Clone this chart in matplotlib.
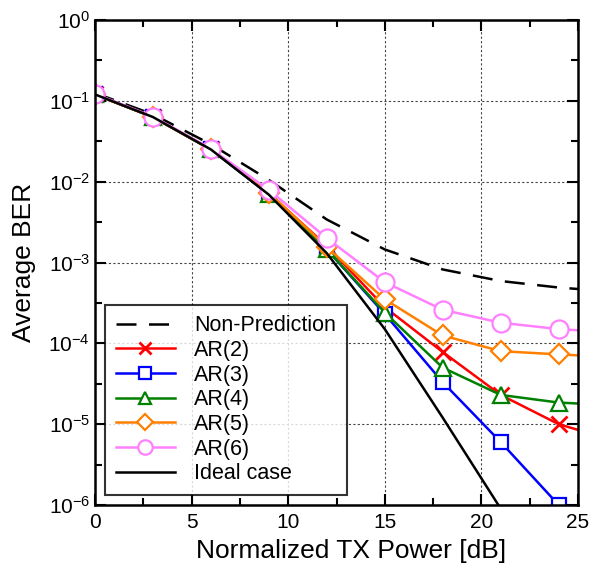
import numpy as np
import matplotlib
matplotlib.use("Agg")
import matplotlib.pyplot as plt
from matplotlib.ticker import FixedLocator, NullFormatter

plt.rcParams['font.family'] = ['Liberation Sans', 'DejaVu Sans']
plt.rcParams['mathtext.fontset'] = 'custom'
plt.rcParams['mathtext.rm'] = 'Liberation Sans'

tx_power = [0, 3, 6, 9, 12, 15, 18, 21, 24, 25]

non_pred = [0.125, 0.068, 0.029, 0.0105, 3.4e-3, 1.45e-3, 8.2e-4, 5.9e-4, 4.9e-4, 4.7e-4]
ar2 = [0.12, 0.063, 0.025, 0.0072, 1.6e-3, 2.8e-4, 7.8e-5, 2.3e-5, 1.0e-5, 8.5e-6]
ar3 = [0.12, 0.063, 0.025, 0.0070, 1.45e-3, 2.3e-4, 3.3e-5, 6.0e-6, 1.0e-6, 5.5e-7]
ar4 = [0.12, 0.063, 0.025, 0.0070, 1.45e-3, 2.4e-4, 5.0e-5, 2.3e-5, 1.85e-5, 1.8e-5]
ar5 = [0.12, 0.063, 0.025, 0.0073, 1.55e-3, 3.5e-4, 1.25e-4, 8.0e-5, 7.3e-5, 7.1e-5]
ar6 = [0.122, 0.064, 0.0255, 0.0079, 2.0e-3, 5.7e-4, 2.6e-4, 1.8e-4, 1.5e-4, 1.45e-4]
ideal = [0.12, 0.063, 0.025, 0.0069, 1.3e-3, 1.5e-4, 1.2e-5, 9e-7, 6e-8, 2e-8]

labels = ['Non-Prediction', 'AR(2)', 'AR(3)', 'AR(4)', 'AR(5)', 'AR(6)', 'Ideal case']

fig = plt.figure(figsize=(5.93, 5.66), dpi=100)
ax = fig.add_axes([95/593, 1-505/566, (578-95)/593, (505-20)/566])

mk = list(range(9))
lw = 1.8
ax.plot(tx_power, non_pred, color='black', ls=(0, (8, 5)), lw=lw, label=labels[0])
ax.plot(tx_power, ar2, color='#ff0000', lw=lw, marker='x', ms=11, mew=2, markevery=mk, label=labels[1])
ax.plot(tx_power, ar3, color='#0000ff', lw=lw, marker='s', ms=10, mew=1.6, mfc='white', markevery=mk, label=labels[2])
ax.plot(tx_power, ar4, color='#008000', lw=lw, marker='^', ms=11, mew=1.6, mfc='white', markevery=mk, label=labels[3])
ax.plot(tx_power, ar5, color='#ff8000', lw=lw, marker='D', ms=10, mew=1.6, mfc='white', markevery=mk, label=labels[4])
ax.plot(tx_power, ar6, color='#ff80ff', lw=lw, marker='o', ms=13, mew=1.6, mfc='white', markevery=mk, label=labels[5])
ax.plot(tx_power, ideal, color='black', lw=lw, label=labels[6])

ax.set_yscale('log')
ax.set_xlim(0, 25)
ax.set_ylim(1e-6, 1)
ax.set_xticks([0, 5, 10, 15, 20, 25])
ax.xaxis.set_minor_locator(FixedLocator([2.5, 7.5, 12.5, 17.5, 22.5]))
ax.set_yticks([10.0**-k for k in range(0, 7)])
ax.set_yticklabels([r'$\mathregular{10^{%d}}$' % (-k) for k in range(0, 7)])
ax.yaxis.set_minor_locator(FixedLocator([10**(-k + 0.5) for k in range(1, 7)]))
ax.yaxis.set_minor_formatter(NullFormatter())

ax.tick_params(which='both', direction='in', top=True, right=True, labelsize=15, width=1.5)
ax.tick_params(which='major', length=8)
ax.tick_params(which='minor', length=5)
ax.tick_params(axis='x', pad=6)
ax.grid(True, which='major', ls=(0, (2, 2)), color='#444444', lw=0.8)
for s in ax.spines.values():
    s.set_linewidth(1.8)

ax.set_xlabel('Normalized TX Power [dB]', fontsize=19)
ax.set_ylabel('Average BER', fontsize=19)
ax.xaxis.set_label_coords((351 - 95) / 483, (505 - 539) / 485)
ax.yaxis.set_label_coords((36 - 95) / 483, 0.5)

leg = ax.legend(loc='lower left', bbox_to_anchor=((105 - 95) / 483, (505 - 495) / 485),
                borderaxespad=0, fontsize=15.5, frameon=True, markerscale=0.8,
                fancybox=False, edgecolor='black', handlelength=2.75, handletextpad=0.9,
                labelspacing=0.17, borderpad=0.5)
leg.get_frame().set_linewidth(1.5)

fig.savefig('out.png', dpi=100)
